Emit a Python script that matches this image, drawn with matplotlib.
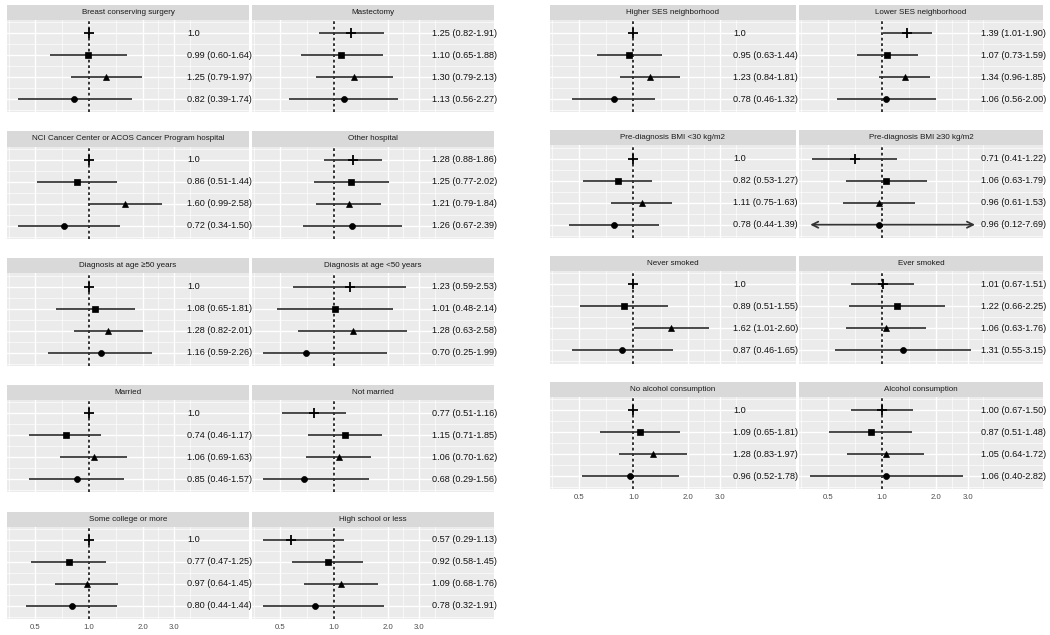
import numpy as np
import matplotlib
matplotlib.use("Agg")
import matplotlib.pyplot as plt
import matplotlib.transforms as mtransforms
from matplotlib.ticker import NullFormatter

plt.rcParams['font.family'] = ['Liberation Sans', 'DejaVu Sans']

nan = np.nan

# ---- data: one entry per facet, rows = 4 estimates each ----
left_titles = ["Breast conserving surgery", "Mastectomy",
               "NCI Cancer Center or ACOS Cancer Program hospital", "Other hospital",
               "Diagnosis at age \u226550 years", "Diagnosis at age <50 years",
               "Married", "Not married",
               "Some college or more", "High school or less"]
left_est = [[1.0, 0.99, 1.25, 0.82], [1.25, 1.10, 1.30, 1.13],
            [1.0, 0.86, 1.60, 0.72], [1.28, 1.25, 1.21, 1.26],
            [1.0, 1.08, 1.28, 1.16], [1.23, 1.01, 1.28, 0.70],
            [1.0, 0.74, 1.06, 0.85], [0.77, 1.15, 1.06, 0.68],
            [1.0, 0.77, 0.97, 0.80], [0.57, 0.92, 1.09, 0.78]]
left_lo = [[nan, 0.60, 0.79, 0.39], [0.82, 0.65, 0.79, 0.56],
           [nan, 0.51, 0.99, 0.34], [0.88, 0.77, 0.79, 0.67],
           [nan, 0.65, 0.82, 0.59], [0.59, 0.48, 0.63, 0.25],
           [nan, 0.46, 0.69, 0.46], [0.51, 0.71, 0.70, 0.29],
           [nan, 0.47, 0.64, 0.44], [0.29, 0.58, 0.68, 0.32]]
left_hi = [[nan, 1.64, 1.97, 1.74], [1.91, 1.88, 2.13, 2.27],
           [nan, 1.44, 2.58, 1.50], [1.86, 2.02, 1.84, 2.39],
           [nan, 1.81, 2.01, 2.26], [2.53, 2.14, 2.58, 1.99],
           [nan, 1.17, 1.63, 1.57], [1.16, 1.85, 1.62, 1.56],
           [nan, 1.25, 1.45, 1.44], [1.13, 1.45, 1.76, 1.91]]

right_titles = ["Higher SES neighborhood", "Lower SES neighborhood",
                "Pre-diagnosis BMI <30 kg/m2", "Pre-diagnosis BMI \u226530 kg/m2",
                "Never smoked", "Ever smoked",
                "No alcohol consumption", "Alcohol consumption"]
right_est = [[1.0, 0.95, 1.23, 0.78], [1.39, 1.07, 1.34, 1.06],
             [1.0, 0.82, 1.11, 0.78], [0.71, 1.06, 0.96, 0.96],
             [1.0, 0.89, 1.62, 0.87], [1.01, 1.22, 1.06, 1.31],
             [1.0, 1.09, 1.28, 0.96], [1.00, 0.87, 1.05, 1.06]]
right_lo = [[nan, 0.63, 0.84, 0.46], [1.01, 0.73, 0.96, 0.56],
            [nan, 0.53, 0.75, 0.44], [0.41, 0.63, 0.61, 0.12],
            [nan, 0.51, 1.01, 0.46], [0.67, 0.66, 0.63, 0.55],
            [nan, 0.65, 0.83, 0.52], [0.67, 0.51, 0.64, 0.40]]
right_hi = [[nan, 1.44, 1.81, 1.32], [1.90, 1.59, 1.85, 2.00],
            [nan, 1.27, 1.63, 1.39], [1.22, 1.79, 1.53, 7.69],
            [nan, 1.55, 2.60, 1.65], [1.51, 2.25, 1.76, 3.15],
            [nan, 1.81, 1.97, 1.78], [1.50, 1.48, 1.72, 2.82]]

x_ticks = [0.5, 1.0, 2.0, 3.0]
x_ticklabels = ["0.5", "1.0", "2.0", "3.0"]

# ---- styling ----
W, H = 1050, 635
CLIP_LO, CLIP_HI = 0.40, 3.3
XLIM = (2 ** -1.53, 2 ** 2.98)
markers = [('+', 7.5, 1.3), ('s', 4.4, 0), ('^', 5.0, 0), ('o', 4.3, 0)]
bar_col = '#333333'
minor_x = [np.sqrt(0.5 * 0.25), np.sqrt(0.5), np.sqrt(2), np.sqrt(6), 3 * np.sqrt(1.5)]

fig = plt.figure(figsize=(W / 100, H / 100), dpi=100)


def label_for(e, lo, hi):
    if np.isnan(lo):
        return "1.0"
    return f"{e:.2f} ({lo:.2f}-{hi:.2f})"


def draw_panel(px0, px1, row1_y, title, est, lo, hi, bottom):
    top = row1_y - 13.2
    h = 92.4
    ax = fig.add_axes([px0 / W, 1 - (top + h) / H, (px1 - px0) / W, h / H])
    sax = fig.add_axes([px0 / W, 1 - top / H, (px1 - px0) / W, 15.2 / H])
    sax.set_facecolor('#D9D9D9')
    sax.set_xticks([])
    sax.set_yticks([])
    for s in sax.spines.values():
        s.set_visible(False)
    sax.text(0.5, 0.5, title, ha='center', va='center', fontsize=5.8, color='#1A1A1A',
             transform=sax.transAxes)

    ax.set_facecolor('#EBEBEB')
    for s in ax.spines.values():
        s.set_visible(False)
    ax.set_xscale('log')
    ax.set_xlim(*XLIM)
    ax.set_ylim(4.6, 0.4)
    ax.set_xticks(x_ticks)
    ax.set_xticks(minor_x, minor=True)
    ax.xaxis.set_minor_formatter(NullFormatter())
    ax.set_yticks([1, 2, 3, 4])
    ax.set_yticks([0.5, 1.5, 2.5, 3.5, 4.5], minor=True)
    ax.set_yticklabels([])
    if bottom:
        ax.set_xticklabels(x_ticklabels)
    else:
        ax.set_xticklabels([])
    ax.tick_params(which='both', length=0, labelsize=5.6, labelcolor='#4D4D4D', pad=3.5)
    ax.grid(which='major', color='white', lw=0.95)
    ax.grid(which='minor', color='white', lw=0.45)
    ax.set_axisbelow(True)

    ax.axvline(1.0, color='black', lw=1.1, ls=(0, (1.8, 1.8)), zorder=2)

    trans = mtransforms.blended_transform_factory(ax.transAxes, ax.transData)
    ys = np.arange(1, 5)
    for i, y in enumerate(ys):
        if not np.isnan(lo[i]):
            a = max(lo[i], CLIP_LO)
            b = min(hi[i], CLIP_HI)
            if hi[i] > CLIP_HI:
                ax.annotate('', xy=(b, y), xytext=(a, y),
                            arrowprops=dict(arrowstyle='<->', color=bar_col, lw=1.25,
                                            shrinkA=0, shrinkB=0, mutation_scale=11),
                            zorder=3)
            else:
                ax.plot([a, b], [y, y], color=bar_col, lw=1.25, solid_capstyle='butt', zorder=3)
        m, ms, mew = markers[i]
        ax.plot(est[i], y, marker=m, ms=ms, mew=mew if mew else 0.5, color='black',
                ls='none', zorder=4)
        ax.text(0.744, y, label_for(est[i], lo[i], hi[i]), transform=trans,
                ha='left', va='center', fontsize=6.6, color='#111111')


left_cols = [(7, 249), (252, 494)]
right_cols = [(550, 796), (799, 1043)]

for k in range(5):
    for j in range(2):
        n = 2 * k + j
        draw_panel(left_cols[j][0], left_cols[j][1], 33 + 126.75 * k, left_titles[n],
                   left_est[n], left_lo[n], left_hi[n], bottom=(k == 4))

for k in range(4):
    for j in range(2):
        n = 2 * k + j
        draw_panel(right_cols[j][0], right_cols[j][1], 33 + 125.7 * k, right_titles[n],
                   right_est[n], right_lo[n], right_hi[n], bottom=(k == 3))

fig.savefig("out.png", dpi=100, facecolor='white')
